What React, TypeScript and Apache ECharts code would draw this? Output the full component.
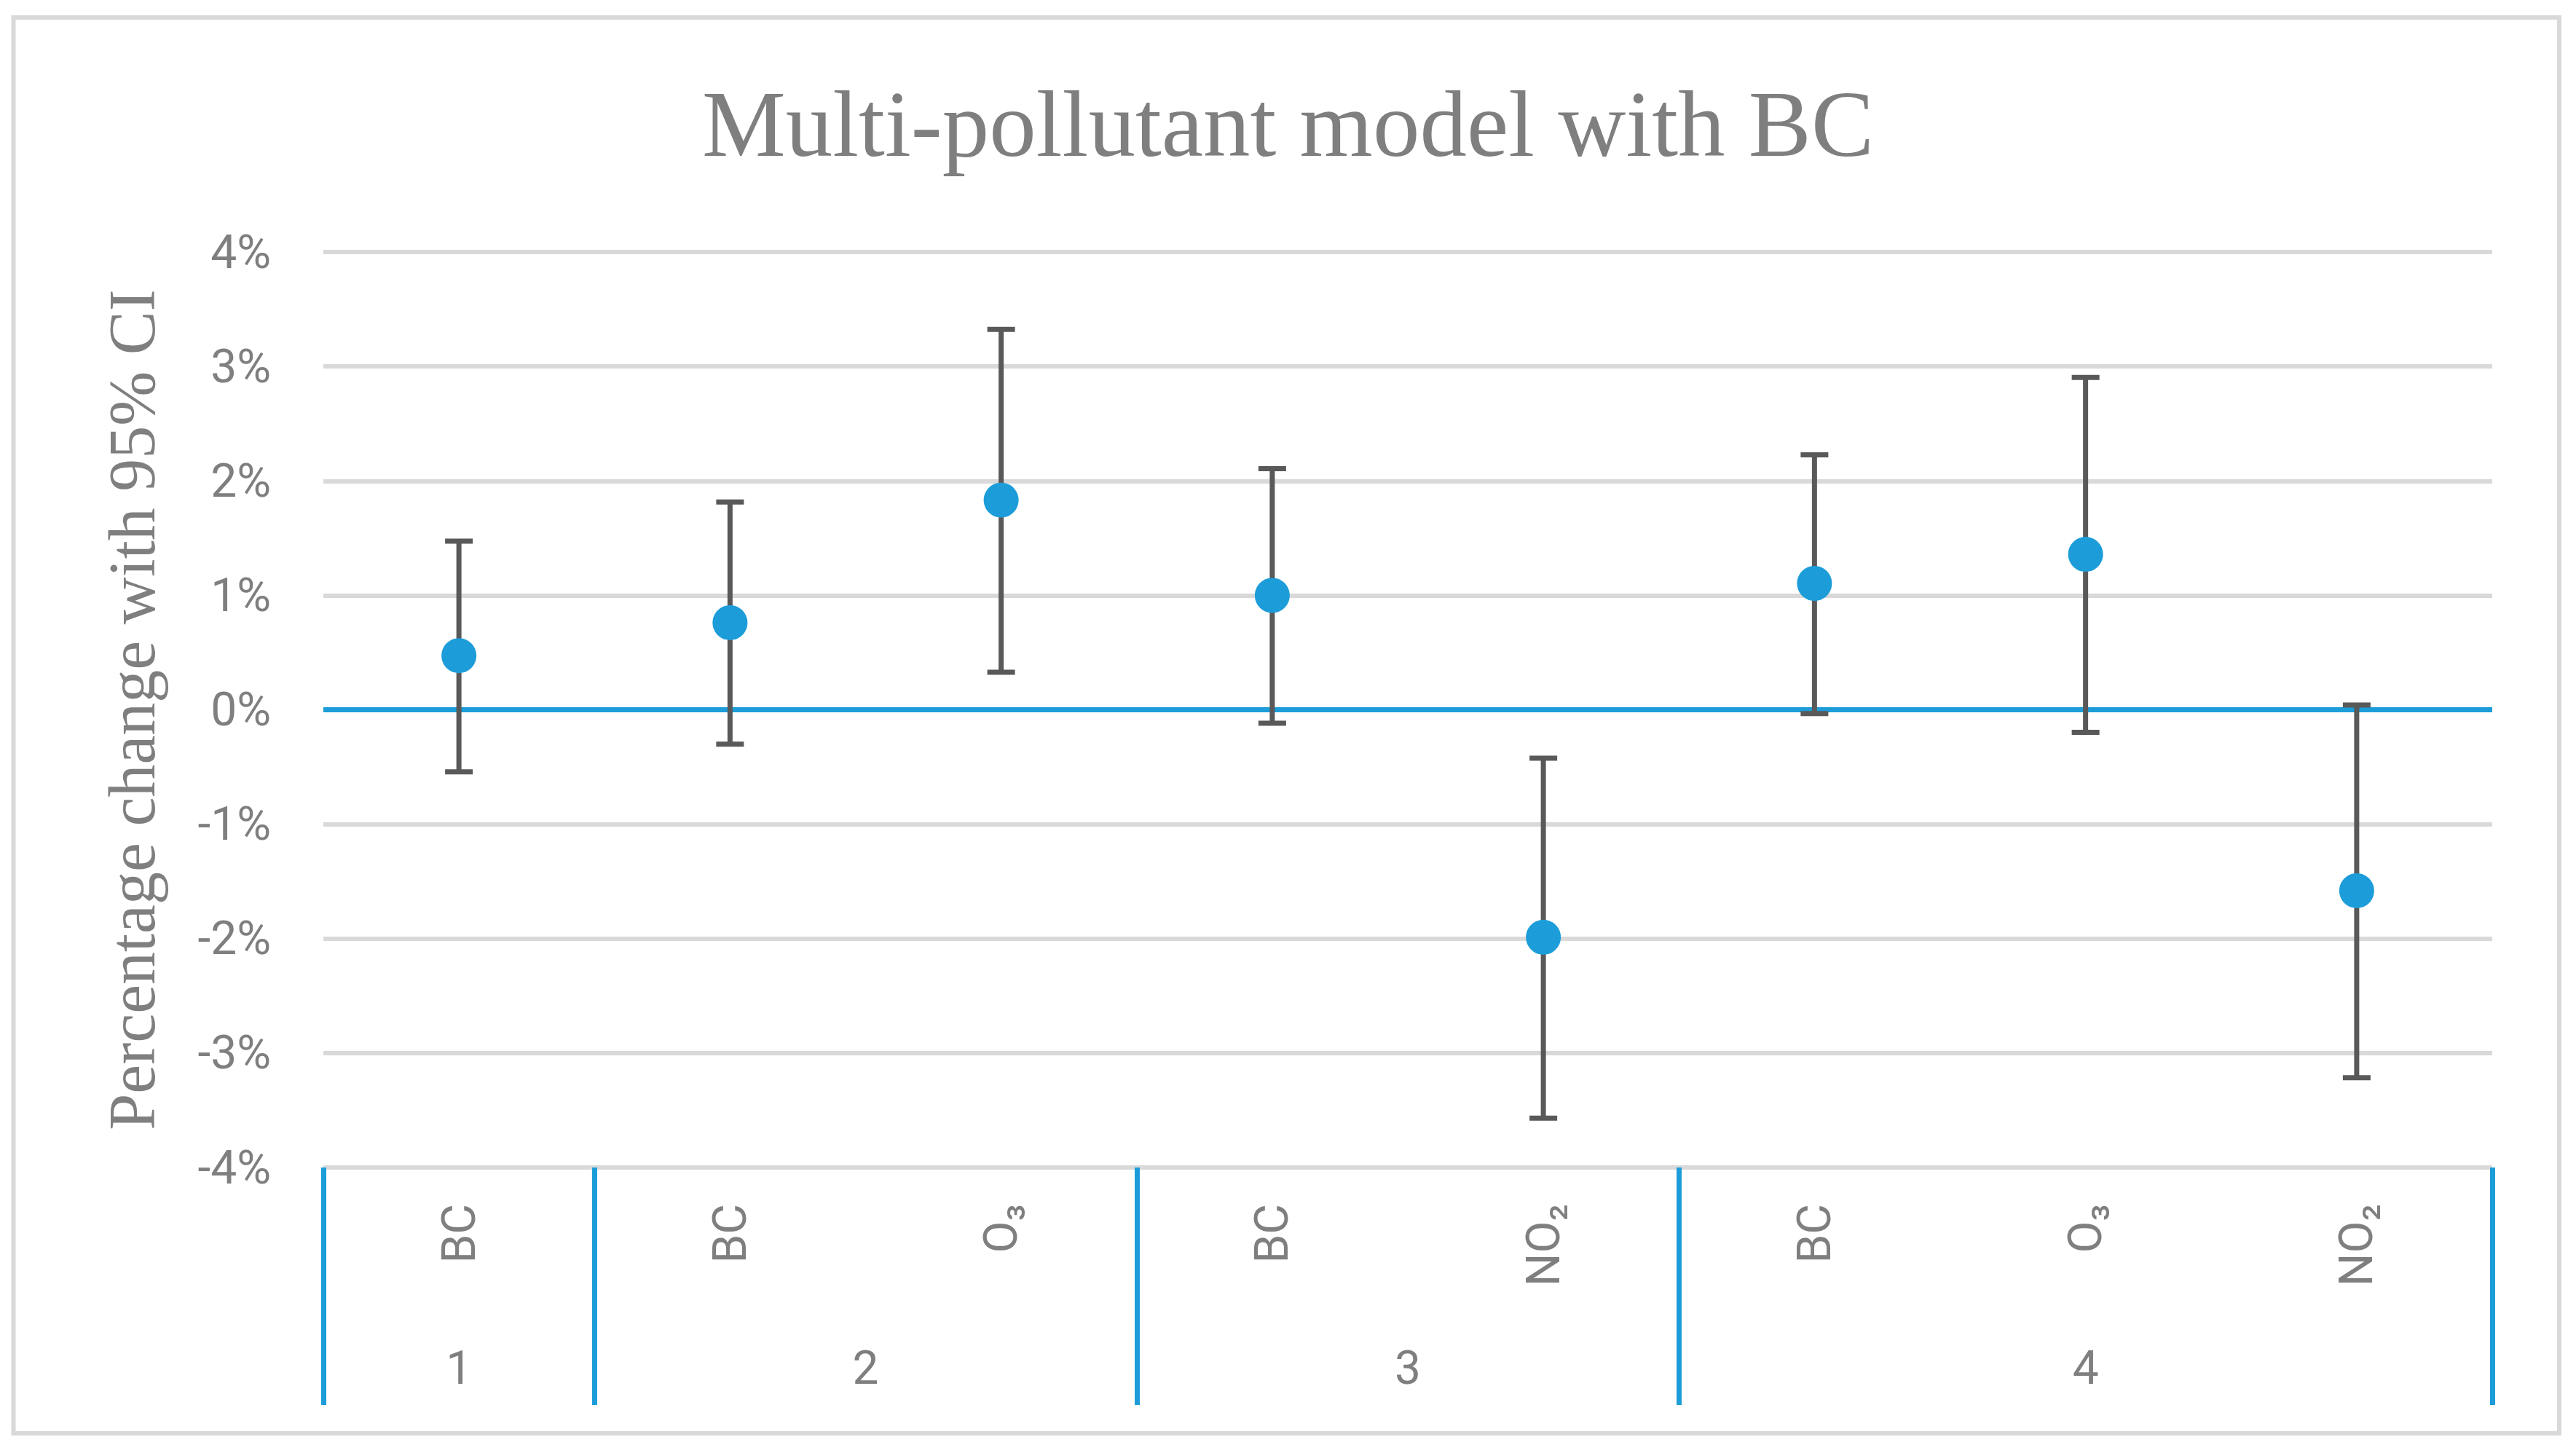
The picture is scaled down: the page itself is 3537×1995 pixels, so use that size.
import React, { useEffect, useRef } from "react";
import * as echarts from "echarts";

const categories = ["BC", "BC", "O₃", "BC", "NO₂", "BC", "O₃", "NO₂"];
const groups = ["1", "2", "3", "4"];
const groupSizes = [1, 2, 2, 3];
const estimates = [0.473, 0.761, 1.832, 0.999, -1.988, 1.104, 1.358, -1.581];
const lowerCI = [-0.543, -0.301, 0.328, -0.117, -3.569, -0.033, -0.198, -3.216];
const upperCI = [1.474, 1.815, 3.324, 2.106, -0.423, 2.227, 2.904, 0.041];
const yTicks = [-4, -3, -2, -1, 0, 1, 2, 3, 4];

const TEXT = "#7f7f7f";
const BLUE = "#1c9dd9";
const BAR = "#595959";
const GRID = "#d9d9d9";
const SANS = "Roboto, 'Open Sans', 'DejaVu Sans', sans-serif";
const SERIF = "'Liberation Serif', 'DejaVu Serif', serif";

export default function App() {
  const ref = useRef<HTMLDivElement>(null);
  useEffect(() => {
    if (!ref.current) return;
    const chart = echarts.init(ref.current, undefined, { renderer: "svg" });

    const boundaries: number[] = [0];
    groupSizes.forEach((s) => boundaries.push(boundaries[boundaries.length - 1] + s));
    const groupCenters = groupSizes.map((_, i) => (boundaries[i] + boundaries[i + 1]) / 2);
    const n = categories.length;

    chart.setOption({
      animation: false,
      backgroundColor: "#ffffff",
      title: {
        text: "Multi-pollutant model with BC",
        left: "center",
        top: 101,
        textStyle: { fontFamily: SERIF, fontSize: 129, fontWeight: "normal", color: TEXT, lineHeight: 129 },
      },
      grid: { left: 444, right: 115, top: 346, bottom: 392, containLabel: false },
      xAxis: [
        {
          type: "category",
          data: categories,
          boundaryGap: true,
          axisLine: { show: false },
          axisTick: { show: false },
          splitLine: { show: false },
          axisLabel: {
            rotate: 90,
            margin: 50,
            interval: 0,
            fontFamily: SANS,
            fontSize: 64,
            color: TEXT,
          },
        },
        {
          type: "value",
          min: 0,
          max: n,
          position: "bottom",
          axisLine: { show: false },
          splitLine: { show: false },
          axisTick: {
            show: true,
            customValues: boundaries,
            length: 326,
            lineStyle: { color: BLUE, width: 7 },
          },
          axisLabel: {
            customValues: groupCenters,
            margin: 243,
            fontFamily: SANS,
            fontSize: 64,
            color: TEXT,
            formatter: (v: number) => {
              const idx = groupCenters.findIndex((c) => Math.abs(c - v) < 1e-6);
              return idx >= 0 ? groups[idx] : "";
            },
          },
        },
      ],
      yAxis: {
        type: "value",
        min: yTicks[0],
        max: yTicks[yTicks.length - 1],
        interval: 1,
        axisLine: { show: false },
        axisTick: { show: false },
        splitLine: { show: true, lineStyle: { color: GRID, width: 6 } },
        axisLabel: {
          margin: 72,
          fontFamily: SANS,
          fontSize: 64,
          color: TEXT,
          formatter: (v: number) => `${v}%`,
        },
        name: "Percentage change with 95% CI",
        nameLocation: "middle",
        nameRotate: 90,
        nameGap: 218,
        nameTextStyle: { fontFamily: SERIF, fontSize: 90, color: TEXT },
      },
      graphic: [
        {
          type: "rect",
          shape: { x: 18.5, y: 24, width: 3495.5, height: 1944 },
          style: { fill: "none", stroke: GRID, lineWidth: 6 },
          silent: true,
        },
      ],
      series: [
        {
          type: "line",
          xAxisIndex: 1,
          yAxisIndex: 0,
          data: [
            [0, 0],
            [n, 0],
          ],
          symbol: "none",
          lineStyle: { color: BLUE, width: 7 },
          z: 1,
          silent: true,
        },
        {
          type: "custom",
          xAxisIndex: 0,
          yAxisIndex: 0,
          z: 3,
          data: categories.map((_, i) => [i, lowerCI[i], upperCI[i]]),
          renderItem: (params: any, api: any) => {
            const x = api.value(0);
            const pLo = api.coord([x, api.value(1)]);
            const pHi = api.coord([x, api.value(2)]);
            const half = 19;
            const style = { stroke: BAR, lineWidth: 7 };
            return {
              type: "group",
              children: [
                { type: "line", shape: { x1: pLo[0], y1: pLo[1], x2: pHi[0], y2: pHi[1] }, style },
                { type: "line", shape: { x1: pLo[0] - half, y1: pLo[1], x2: pLo[0] + half, y2: pLo[1] }, style },
                { type: "line", shape: { x1: pHi[0] - half, y1: pHi[1], x2: pHi[0] + half, y2: pHi[1] }, style },
              ],
            };
          },
        },
        {
          type: "scatter",
          xAxisIndex: 0,
          yAxisIndex: 0,
          z: 4,
          symbol: "circle",
          symbolSize: 48,
          itemStyle: { color: BLUE, opacity: 1 },
          data: estimates.map((v, i) => [i, v]),
        },
      ],
    });

    return () => chart.dispose();
  }, []);

  return (
    <div
      ref={ref}
      style={{ position: "fixed", left: 0, top: 0, width: 3537, height: 1995, background: "#fff" }}
    />
  );
}
